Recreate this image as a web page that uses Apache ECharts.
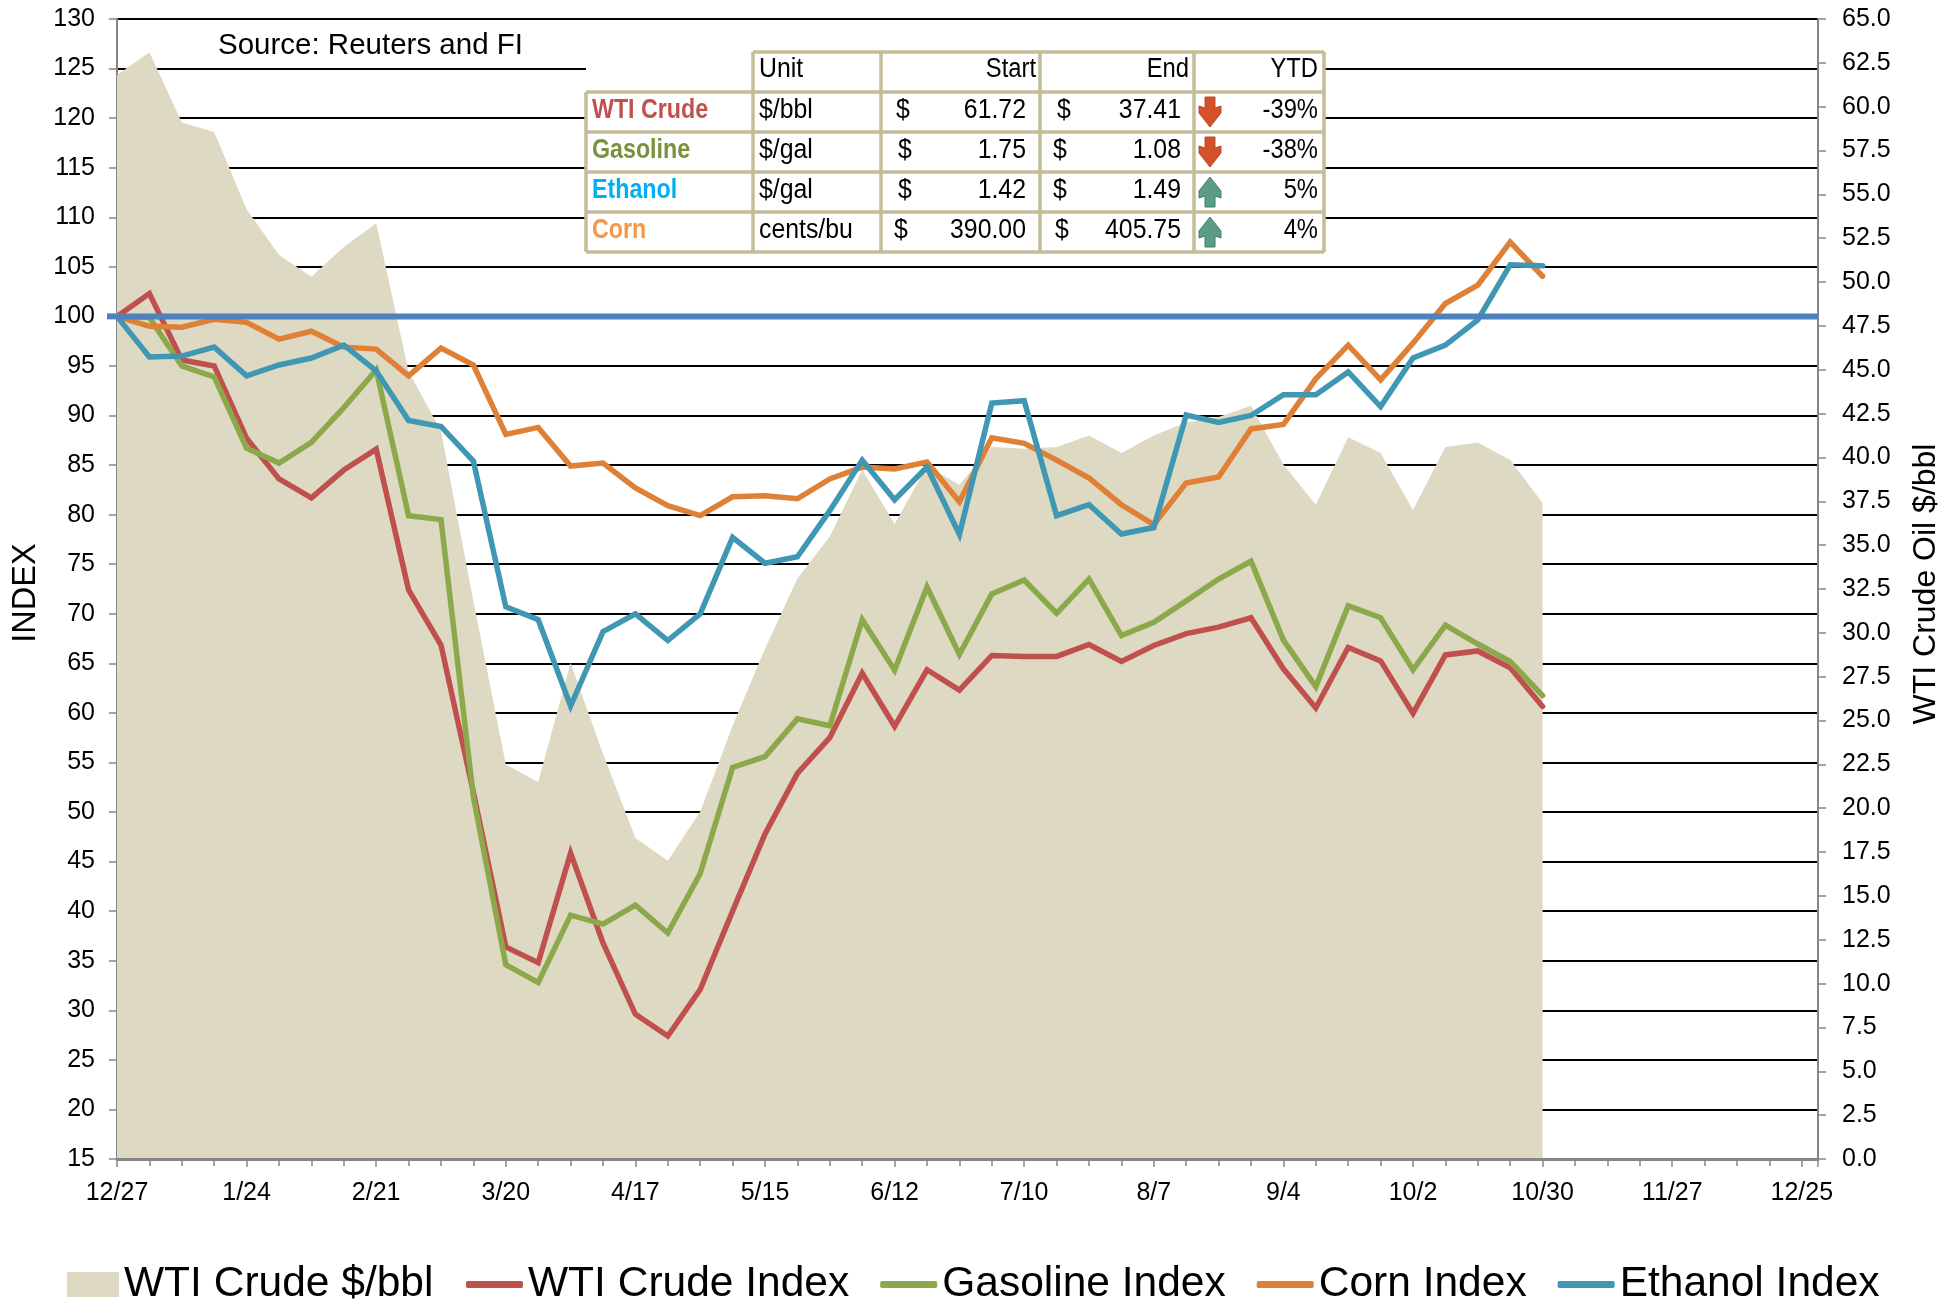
<!DOCTYPE html>
<html>
<head>
<meta charset="utf-8">
<style>html,body{margin:0;padding:0;background:#fff}#c{width:1956px;height:1303px}</style>
<script src="https://cdn.jsdelivr.net/npm/echarts@6/dist/echarts.min.js"></script>
</head>
<body>
<div id="c"></div>
<script>
// ---- data ----
const tickLabels = ['12/27','1/24','2/21','3/20','4/17','5/15','6/12','7/10','8/7','9/4','10/2','10/30','11/27','12/25'];
const crudeDollars = [61.8,63.1,59.1,58.55,54.15,51.55,50.3,52,53.35,44.9,41.5,31.8,22.5,21.5,28.3,23.1,18.3,17,19.8,24.7,29.1,33.1,35.5,39.3,36.2,39.5,38.45,40.6,40.5,40.6,41.25,40.25,41.25,42,42.3,42.95,39.6,37.3,41.15,40.25,37,40.6,40.85,39.85,37.41];
const wtiIndex = [100,102.3,95.6,95,87.7,83.6,81.7,84.5,86.6,72.4,66.85,52,36.4,34.8,45.85,36.8,29.6,27.4,32.1,40,47.8,53.9,57.5,64,58.65,64.35,62.3,65.8,65.7,65.7,66.9,65.2,66.8,68,68.65,69.6,64.45,60.5,66.6,65.25,59.95,65.85,66.25,64.55,60.65];
const gasolineIndex = [100,99.9,95,93.9,86.7,85.2,87.3,90.8,94.6,79.9,79.5,51.5,34.6,32.8,39.6,38.7,40.6,37.8,43.8,54.5,55.6,59.4,58.7,69.4,64.3,72.7,65.9,72,73.4,70.05,73.5,67.8,69.15,71.3,73.5,75.3,67.35,62.65,70.8,69.6,64.35,68.85,66.95,65.2,61.75];
const cornIndex = [100,99,98.9,99.7,99.4,97.7,98.5,96.9,96.7,94,96.8,95.1,88.1,88.8,84.9,85.2,82.7,80.9,79.9,81.8,81.9,81.6,83.6,84.8,84.6,85.3,81.3,87.75,87.2,85.5,83.7,81,79,83.2,83.8,88.65,89.1,93.7,97.1,93.6,97.3,101.3,103.15,107.5,104.05];
const ethanolIndex = [100,95.9,96,96.9,94,95.1,95.8,97.1,94.5,89.5,88.9,85.4,70.7,69.4,60.7,68.2,70,67.3,70,77.7,75.1,75.75,80.4,85.5,81.5,84.8,78,91.25,91.5,79.9,81,78.05,78.7,90.05,89.3,90,92.1,92.1,94.4,90.9,95.8,97.1,99.65,105.2,105.1];
const baseline = 100;
const tableHead = ['Unit','Start','End','YTD'];
const tableNames = ['WTI Crude','Gasoline','Ethanol','Corn'];
const tableUnits = ['$/bbl','$/gal','$/gal','cents/bu'];
const tableStart = ['61.72','1.75','1.42','390.00'];
const tableEnd = ['37.41','1.08','1.49','405.75'];
const tableYtd = ['-39%','-38%','5%','4%'];
const tableDown = [true,true,false,false];

// ---- styling ----
const FONT = '"Liberation Sans", Arial, sans-serif';
const COL = {area:'#DDD9C3', wti:'#C0504D', gas:'#8BA84A', corn:'#DE8136', eth:'#3F97B3', base:'#4F81BD', axis:'#868686'};
const NAMECOL = ['#C0504D','#77933C','#00B0F0','#F79646'];
const BORDER = '#C4BD97';

const asPairs = arr => arr.map((v,i)=>[i,v]);
const lineSeries = (name,data,color,z) => ({
  name, type:'line', data:asPairs(data), symbol:'none', smooth:false, z,
  lineStyle:{color,width:5.5,cap:'round',join:'miter'}, itemStyle:{color}, animation:false
});

// ---- table as graphic elements ----
const gfx = [];
const X = {l:586, u:753, s:881, e:1040, y:1194, r:1324};
const Y = [52,92,132,172,212,252];
const tt = (text,x,y,align,fill,bold,sx) => ({
  type:'text', x, y, scaleX:sx||0.92, z:102,
  style:{text,fill:fill||'#000',font:(bold?'bold ':'')+'27px '+FONT,align,verticalAlign:'middle'}
});
gfx.push({type:'rect',z:100,shape:{x:X.l,y:Y[0],width:X.r-X.l,height:Y[5]-Y[0]},style:{fill:'#fff'}});
const seg = (x1,y1,x2,y2)=>gfx.push({type:'line',z:101,shape:{x1,y1,x2,y2},style:{stroke:BORDER,lineWidth:3.5}});
seg(X.u,Y[0],X.r,Y[0]);
for(let r=1;r<=5;r++) seg(X.l,Y[r],X.r,Y[r]);
seg(X.l,Y[1],X.l,Y[5]);
[X.u,X.s,X.e,X.y,X.r].forEach(x=>seg(x,Y[0],x,Y[5]));
const hy = 70;
gfx.push(tt(tableHead[0],759,hy,'left'),tt(tableHead[1],1036,hy,'right',null,false,.88),tt(tableHead[2],1189,hy,'right',null,false,.88),tt(tableHead[3],1318,hy,'right',null,false,.88));
const dollarS=[903,905,905,901], dollarE=[1064,1060,1060,1062];
const arrowDown=[[-5,-15],[5,-15],[5,-4],[11,-6],[11,1],[0,15],[-11,1],[-11,-6],[-5,-4]];
const arrowUp=[[0,-15],[11,-1],[11,6],[5,4],[5,15],[-5,15],[-5,4],[-11,6],[-11,-1]];
for(let r=0;r<4;r++){
  const cy=[111,151,191,231][r];
  gfx.push(tt(tableNames[r],592,cy,'left',NAMECOL[r],true,.86));
  gfx.push(tt(tableUnits[r],759,cy,'left'));
  gfx.push(tt('$',dollarS[r],cy,'center'));
  gfx.push(tt(tableStart[r],1026,cy,'right'));
  gfx.push(tt('$',dollarE[r],cy,'center'));
  gfx.push(tt(tableEnd[r],1181,cy,'right'));
  gfx.push(tt(tableYtd[r],1318,cy,'right',null,false,.88));
  const ax=1210, ay=[112,152,192,232][r];
  const pts=(tableDown[r]?arrowDown:arrowUp).map(p=>[ax+p[0],ay+p[1]]);
  gfx.push({type:'polygon',z:102,shape:{points:pts},style:{fill:tableDown[r]?'#D2502A':'#5C9C84',stroke:tableDown[r]?'#C04A28':'#3F8069',lineWidth:1}});
}
gfx.push({type:'text',x:218,y:46,z:102,style:{text:'Source: Reuters and FI',fill:'#000',font:'29.5px '+FONT,align:'left',verticalAlign:'middle'}});

const tickFont = {fontFamily:FONT,fontSize:25,color:'#000'};
const names = {area:'WTI Crude $/bbl',wti:'WTI Crude Index',gas:'Gasoline Index',corn:'Corn Index',eth:'Ethanol Index'};
const legendText = {fontFamily:FONT,fontSize:42.5,color:'#000'};

const option = {
  backgroundColor:'#fff',
  animation:false,
  textStyle:{fontFamily:FONT},
  grid:{left:117,right:138,top:19,bottom:144,containLabel:false},
  xAxis:{
    type:'value', min:0, max:52.5, interval:4, z:3,
    axisLine:{show:true,onZero:false,lineStyle:{color:COL.axis,width:3}},
    axisTick:{show:true,length:8,lineStyle:{color:COL.axis,width:1.5}},
    minorTick:{show:true,splitNumber:4,length:7,lineStyle:{color:COL.axis,width:1.5}},
    splitLine:{show:false},
    axisLabel:{...tickFont,margin:22,showMaxLabel:false,hideOverlap:false,
      formatter:v=>(v%4===0&&tickLabels[v/4])||''}
  },
  yAxis:[{
    type:'value', min:15, max:130, interval:5, position:'left',
    name:'INDEX', nameLocation:'middle', nameGap:63, nameRotate:90,
    nameTextStyle:{fontFamily:FONT,fontSize:32.5,color:'#000',padding:[0,8,0,0]},
    axisLine:{show:true,onZero:false,lineStyle:{color:COL.axis,width:2}},
    axisTick:{show:true,length:8,lineStyle:{color:COL.axis,width:1.5}},
    splitLine:{show:true,lineStyle:{color:'#000',width:2}},
    axisLabel:{...tickFont,margin:22,padding:[6,0,0,0],showMinLabel:true,showMaxLabel:true}
  },{
    type:'value', min:0, max:65, interval:2.5, position:'right',
    name:'WTI Crude Oil $/bbl', nameLocation:'middle', nameGap:92, nameRotate:90,
    nameTextStyle:{fontFamily:FONT,fontSize:32,color:'#000',padding:[0,0,0,10]},
    axisLine:{show:true,onZero:false,lineStyle:{color:COL.axis,width:2}},
    axisTick:{show:true,length:8,lineStyle:{color:COL.axis,width:1.5}},
    splitLine:{show:false},
    axisLabel:{...tickFont,margin:24,padding:[6,0,0,0],formatter:v=>v.toFixed(1),showMinLabel:true,showMaxLabel:true}
  }],
  legend:[{
    left:67, top:1263, data:[names.area], icon:'rect', itemWidth:52, itemHeight:25,
    textStyle:legendText, padding:0
  },{
    left:466, top:1263, data:[names.wti,names.gas,names.corn,names.eth], icon:'roundRect',
    itemWidth:57, itemHeight:7, itemGap:31, textStyle:legendText, padding:0
  }],
  series:[
    {name:names.area,type:'line',yAxisIndex:1,data:asPairs(crudeDollars),symbol:'none',z:1,
      lineStyle:{width:0,color:COL.area},itemStyle:{color:COL.area},areaStyle:{color:COL.area,opacity:1}},
    lineSeries(names.wti,wtiIndex,COL.wti,4),
    lineSeries(names.gas,gasolineIndex,COL.gas,5),
    lineSeries(names.corn,cornIndex,COL.corn,6),
    lineSeries(names.eth,ethanolIndex,COL.eth,7),
    {name:'Baseline',type:'line',data:[[0,baseline],[52.5,baseline]],symbol:'none',z:8,
      lineStyle:{color:COL.base,width:6},itemStyle:{color:COL.base}}
  ],
  graphic:{elements:gfx}
};
const chart = echarts.init(document.getElementById('c'),null,{renderer:'canvas'});
chart.setOption(option);
// the baseline runs a little past the left axis, over the tick
const bp = chart.convertToPixel({xAxisIndex:0,yAxisIndex:0},[0,baseline]);
gfx.push({type:'line',z:50,shape:{x1:bp[0]-10,y1:bp[1],x2:bp[0]+1,y2:bp[1]},style:{stroke:COL.base,lineWidth:6}});
chart.setOption({graphic:{elements:gfx}});
</script>
</body>
</html>
